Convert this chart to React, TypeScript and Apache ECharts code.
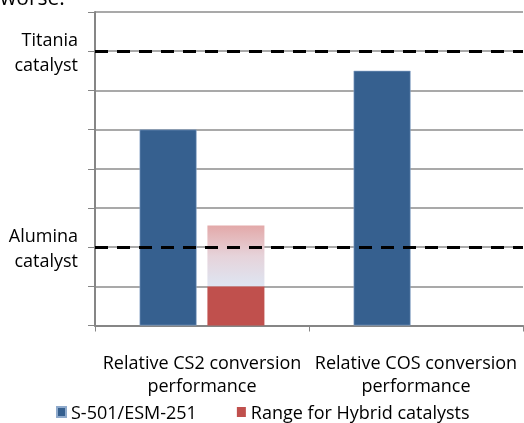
import React, { useEffect, useRef } from "react";
import * as echarts from "echarts";

const categories = ["Relative CS2 conversion\nperformance", "Relative COS conversion\nperformance"];
const baseSeriesName = "S-501/ESM-251";
const hybridSeriesName = "Range for Hybrid catalysts";
const baseValues: (number | string)[] = [5, 6.5];
const hybridLow: (number | string)[] = [1, "-"];
const hybridRangeExtra: (number | string)[] = [1.55, "-"];
const referenceLines = [
  { name: "Titania\ncatalyst", value: 7 },
  { name: "Alumina\ncatalyst", value: 2 },
];
const yMin = 0;
const yMax = 8;

export default function App() {
  const ref = useRef<HTMLDivElement>(null);
  useEffect(() => {
    if (!ref.current) return;
    const chart = echarts.init(ref.current, undefined, { renderer: "svg" });
    const font = "'Open Sans', sans-serif";
    const labelMap: Record<number, string> = {};
    referenceLines.forEach((r) => (labelMap[r.value] = r.name));
    chart.setOption({
      animation: false,
      textStyle: { fontFamily: font },
      graphic: [
        {
          type: "text",
          left: 0,
          top: -14,
          style: { text: "worse:", fontSize: 21, fill: "#000", fontFamily: font },
        },
      ],
      grid: { left: 95, right: 1, top: 12, bottom: 97.5 },
      legend: {
        data: [baseSeriesName, hybridSeriesName],
        left: 56,
        top: 402,
        padding: 0,
        itemWidth: 9,
        itemHeight: 10,
        itemGap: 40,
        icon: "rect",
        textStyle: { fontSize: 18, lineHeight: 20, color: "#000", fontFamily: font },
      },
      xAxis: {
        type: "category",
        data: categories,
        axisLine: { lineStyle: { color: "#868686", width: 2 } },
        axisTick: { show: true, length: 6, lineStyle: { color: "#868686" } },
        axisLabel: { fontSize: 18, color: "#000", lineHeight: 23, margin: 25, interval: 0, fontFamily: font },
      },
      yAxis: {
        type: "value",
        min: yMin,
        max: yMax,
        interval: 1,
        axisLine: { show: true, lineStyle: { color: "#868686", width: 2 } },
        axisTick: { show: true, length: 7, lineStyle: { color: "#868686" } },
        splitLine: { lineStyle: { color: "#8c8c8c", width: 1.5 } },
        axisLabel: {
          margin: 17,
          fontSize: 18,
          lineHeight: 25,
          color: "#000",
          align: "right",
          fontFamily: font,
          formatter: (v: number) => labelMap[v] || "",
        },
      },
      series: [
        {
          name: baseSeriesName,
          type: "bar",
          data: baseValues,
          barWidth: 57,
          barGap: "19%",
          itemStyle: { color: "#36608F", borderColor: "#8FAACC", borderWidth: 0.6 },
          markLine: {
            symbol: "none",
            silent: true,
            label: { show: false },
            lineStyle: { color: "#000", type: [13, 9], width: 3 },
            data: referenceLines.map((r) => ({ yAxis: r.value })),
          },
        },
        {
          name: hybridSeriesName,
          type: "bar",
          stack: "hybrid",
          data: hybridLow,
          barWidth: 57,
          itemStyle: { color: "#C0504D" },
        },
        {
          name: "Hybrid range",
          type: "bar",
          stack: "hybrid",
          data: hybridRangeExtra,
          barWidth: 57,
          itemStyle: {
            color: new echarts.graphic.LinearGradient(0, 0, 0, 1, [
              { offset: 0, color: "#E3A9A9" },
              { offset: 0.5, color: "#E6D3DA" },
              { offset: 1, color: "#DEE5F2" },
            ]),
          },
        },
      ],
    });
    return () => chart.dispose();
  }, []);
  return <div ref={ref} style={{ position: "fixed", left: 0, top: 0, width: 524, height: 423 }} />;
}
